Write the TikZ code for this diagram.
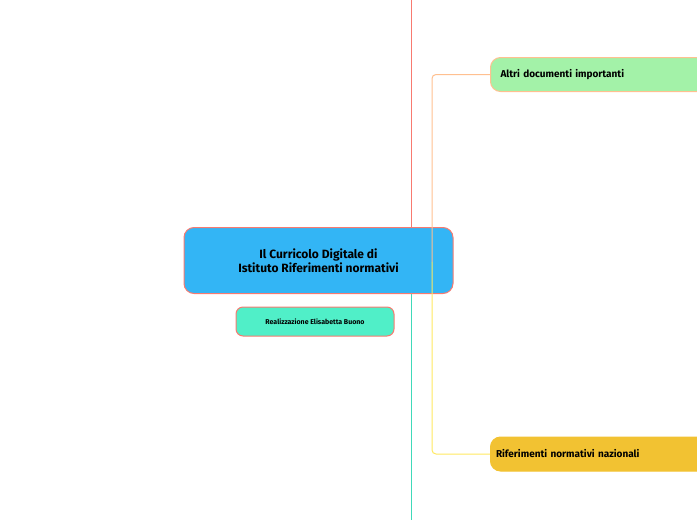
\documentclass[tikz,border=0pt]{standalone}
\usepackage{fontspec}
\setmainfont{Fira Sans}
\usetikzlibrary{positioning}
\definecolor{rosso}{HTML}{F87A70}
\definecolor{azzurro}{HTML}{33B5F5}
\definecolor{acqua}{HTML}{50EFC8}
\definecolor{verde}{HTML}{A3F2A8}
\definecolor{giallo}{HTML}{F2C232}
\definecolor{arancio}{HTML}{FFC090}
\definecolor{gialloL}{HTML}{FFE860}
\tikzset{
  topic/.style={draw=#1,line width=1pt,rounded corners=10pt,inner sep=0pt,font=\bfseries},
}
\begin{document}
\begin{tikzpicture}[x=1pt,y=-1pt]
  \useasboundingbox (0,0) rectangle (697,520);
  \clip (0,0) rectangle (697,520);
  %linee verticali
  \draw[rosso,line width=1pt] (411,0) -- (411,262);
  \draw[acqua!80!teal,line width=1pt] (411,262) -- (411,520);
  %nodo centrale
  \node[topic=rosso,fill=azzurro,minimum width=269pt,minimum height=66pt,align=center,font=\bfseries\large]
    (centro) at (318.5,260.5) {Il Curricolo Digitale di\\Istituto Riferimenti normativi};
  \node[topic=rosso,fill=acqua,minimum width=158pt,minimum height=29pt,rounded corners=7pt,font=\bfseries\scriptsize]
    (autore) at (315,321.5) {Realizzazione Elisabetta Buono};
  %rami
  \node[topic=arancio,fill=verde,minimum width=230pt,minimum height=34pt,anchor=west,text width=210pt]
    (altri) at (490,74.5) {Altri documenti importanti};
  \node[topic=giallo,fill=giallo,minimum width=230pt,minimum height=34pt,anchor=west,text width=215pt]
    (naz) at (490,454) {\hspace*{-2pt}Riferimenti normativi nazionali};
  \coordinate (snodo) at (432,262);
  \draw[arancio,line width=1pt,rounded corners=4pt] (snodo) |- (altri.west);
  \draw[gialloL,line width=1pt,rounded corners=4pt] (snodo) |- (naz.west);
\end{tikzpicture}
\end{document}
